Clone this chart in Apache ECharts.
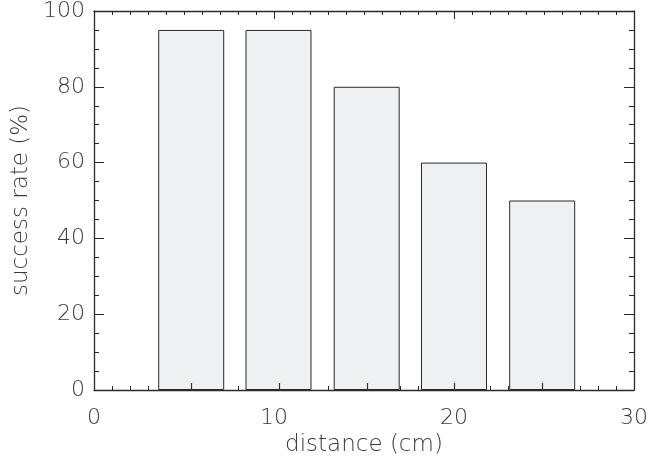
<!DOCTYPE html>
<html>
<head>
<meta charset="utf-8">
<script src="https://cdn.jsdelivr.net/npm/echarts@6/dist/echarts.min.js"></script>
<style>
html,body{margin:0;padding:0;background:#fff;}
#chart{width:651px;height:462px;}
</style>
</head>
<body>
<div id="chart"></div>
<script>
// Data
var barCenters = [5.4, 10.25, 15.15, 20.0, 24.9];   // distance (cm)
var successRates = [95, 95, 80, 60, 50];            // success rate (%)
var xTicks = [0, 10, 20, 30];
var yTicks = [0, 20, 40, 60, 80, 100];

var FONT = 'DejaVu Sans';
var AX = '#2a2a2a';
var TXT = '#3a3a3a';

var barData = barCenters.map(function (x, i) { return [x, successRates[i]]; });

var chart = echarts.init(document.getElementById('chart'), null, {renderer: 'canvas'});

function xAx(pos, showLabel) {
  return {
    type: 'value', position: pos, min: xTicks[0], max: xTicks[xTicks.length - 1], interval: 10,
    name: showLabel ? 'distance (cm)' : '', nameLocation: 'middle', nameGap: 44,
    nameTextStyle: {fontFamily: FONT, fontSize: 23, fontWeight: 200, color: TXT},
    axisLine: {show: true, onZero: false, lineStyle: {color: AX, width: 1.3}},
    axisTick: {show: true, inside: true, length: 8, lineStyle: {color: AX, width: 1}},
    minorTick: {show: true, splitNumber: 10, length: 4, lineStyle: {color: AX, width: 1}},
    axisLabel: {show: showLabel, margin: 17, fontFamily: FONT, fontSize: 22, fontWeight: 200, color: TXT},
    splitLine: {show: false}, minorSplitLine: {show: false}
  };
}
function yAx(pos, showLabel) {
  return {
    type: 'value', position: pos, min: yTicks[0], max: yTicks[yTicks.length - 1], interval: 20,
    name: showLabel ? 'success rate (%)' : '', nameLocation: 'middle', nameGap: 59,
    nameTextStyle: {fontFamily: FONT, fontSize: 23, fontWeight: 200, color: TXT},
    axisLine: {show: true, onZero: false, lineStyle: {color: AX, width: 1.3}},
    axisTick: {show: true, inside: true, length: 10, lineStyle: {color: AX, width: 1}},
    minorTick: {show: true, splitNumber: 4, length: 5, lineStyle: {color: AX, width: 1}},
    axisLabel: {show: showLabel, margin: 9, fontFamily: FONT, fontSize: 22, fontWeight: 200, color: TXT},
    splitLine: {show: false}, minorSplitLine: {show: false}
  };
}

chart.setOption({
  animation: false,
  backgroundColor: '#ffffff',
  grid: {left: 94, right: 13, top: 5.5, bottom: 71, containLabel: false},
  xAxis: [xAx('bottom', true), xAx('top', false)],
  yAxis: [yAx('left', true), yAx('right', false)],
  series: [
    {
      type: 'bar', xAxisIndex: 0, yAxisIndex: 0,
      data: barData, barWidth: 66, z: 2,
      itemStyle: {color: '#eff0f2', borderColor: '#2a2a2a', borderWidth: 1}
    }
  ]
});

// Small ticks at each bar centre, placed through the chart's own axis scale
var tickEls = barCenters.map(function (x) {
  var p = chart.convertToPixel({xAxisIndex: 0, yAxisIndex: 0}, [x, 0]);
  var px = Math.round(p[0]) + 0.5;
  return {
    type: 'line', z: 100, silent: true,
    shape: {x1: px, y1: p[1], x2: px, y2: p[1] - 7},
    style: {stroke: '#333', lineWidth: 1.2}
  };
});
chart.setOption({graphic: tickEls});
</script>
</body>
</html>
